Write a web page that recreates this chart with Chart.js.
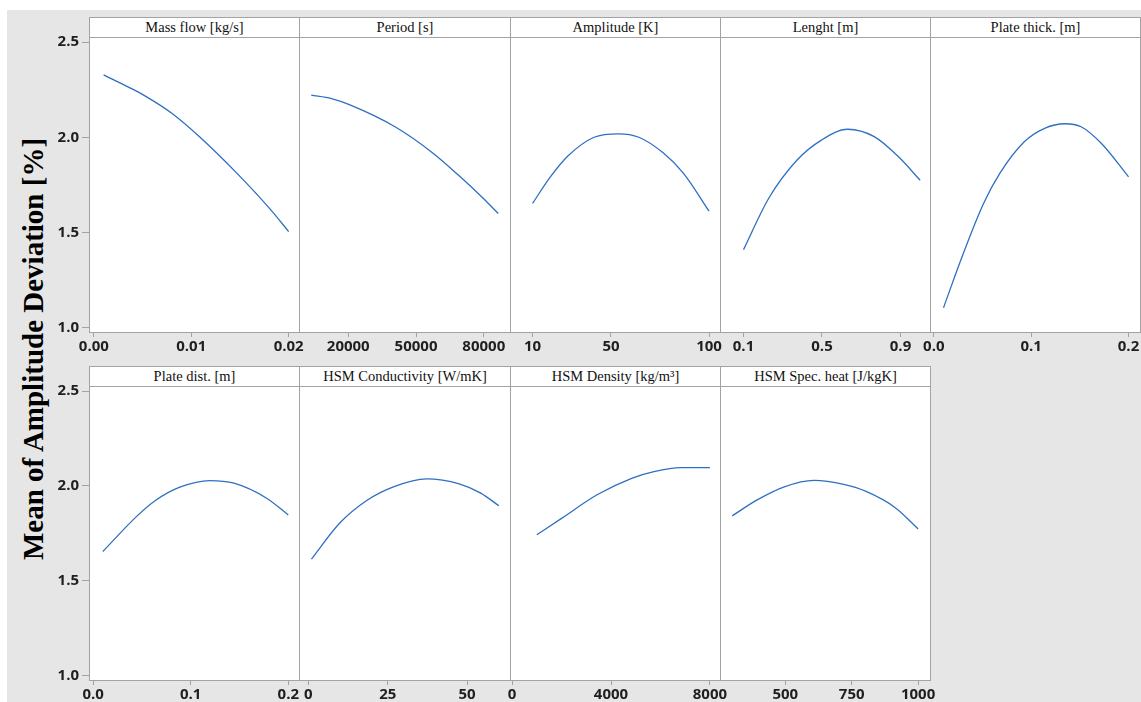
<!DOCTYPE html>
<html>
<head>
<meta charset="utf-8">
<script src="https://cdn.jsdelivr.net/npm/chart.js@4.4.1/dist/chart.umd.min.js"></script>
<style>
  html, body { margin: 0; padding: 0; width: 1141px; height: 702px; overflow: hidden; background: #ffffff; }
  #bg { position: absolute; left: 7px; top: 10px; width: 1134px; height: 692px; background: #e6e6e6; }
  .frame { position: absolute; box-sizing: border-box; background: #ffffff; border: 1px solid #a3a3a3; }
  .strip { box-sizing: border-box; width: 100%; border-bottom: 1px solid #a3a3a3; text-align: center;
           font-family: "Liberation Serif", "Times New Roman", serif; font-size: 14.5px; color: #111111; white-space: nowrap; }
  canvas { position: absolute; }
  #ytitle { position: absolute; left: -217px; top: 329px; width: 500px; height: 40px; line-height: 40px; text-align: center;
            font-family: "Liberation Serif", "Times New Roman", serif; font-weight: bold; font-size: 29px; color: #000000;
            transform: rotate(-90deg); white-space: nowrap; }
</style>
</head>
<body>
<div id="bg"></div>
<div id="ytitle">Mean of Amplitude Deviation [%]</div>
<script>
// Main effects: mean amplitude deviation [%] against each factor
const factorNames = ['Mass flow [kg/s]', 'Period [s]', 'Amplitude [K]', 'Lenght [m]', 'Plate thick. [m]',
                     'Plate dist. [m]', 'HSM Conductivity [W/mK]', 'HSM Density [kg/m³]', 'HSM Spec. heat [J/kgK]'];

const yTickValues = [1.0, 1.5, 2.0, 2.5];
const yTickLabels = ['1.0', '1.5', '2.0', '2.5'];

const massFlowX = [0.001, 0.0035, 0.0052, 0.008, 0.0109, 0.0147, 0.0181, 0.02];
const massFlowY = [2.328, 2.265, 2.219, 2.126, 2.0, 1.81, 1.622, 1.504];
const massFlowTicks = [0, 0.01, 0.02];
const massFlowLabels = ['0.00', '0.01', '0.02'];

const periodX = [3600, 12600, 20750, 40700, 57670, 68740, 79820, 86400];
const periodY = [2.221, 2.203, 2.170, 2.055, 1.915, 1.801, 1.678, 1.599];
const periodTicks = [20000, 50000, 80000];
const periodLabels = ['20000', '50000', '80000'];

const amplitudeX = [10, 19, 28, 41.4, 53.9, 64.2, 76.6, 87, 100];
const amplitudeY = [1.652, 1.790, 1.901, 2.0, 2.018, 2.0, 1.918, 1.81, 1.611];
const amplitudeTicks = [10, 50, 100];
const amplitudeLabels = ['10', '50', '100'];

const lengthX = [0.1, 0.228, 0.373, 0.497, 0.631, 0.766, 0.89, 1.0];
const lengthY = [1.409, 1.678, 1.880, 1.985, 2.042, 2.003, 1.897, 1.774];
const lengthTicks = [0.1, 0.5, 0.9];
const lengthLabels = ['0.1', '0.5', '0.9'];

const plateThickX = [0.01, 0.03, 0.0511, 0.0678, 0.0929, 0.1138, 0.1345, 0.1513, 0.172, 0.2];
const plateThickY = [1.104, 1.385, 1.652, 1.810, 1.976, 2.047, 2.071, 2.055, 1.968, 1.792];
const plateThickTicks = [0, 0.1, 0.2];
const plateThickLabels = ['0.0', '0.1', '0.2'];

const plateDistX = [0.01, 0.0444, 0.0639, 0.0889, 0.1195, 0.1444, 0.1778, 0.2];
const plateDistY = [1.654, 1.838, 1.923, 1.993, 2.028, 2.014, 1.935, 1.847];
const plateDistTicks = [0, 0.1, 0.2];
const plateDistLabels = ['0.0', '0.1', '0.2'];

const conductivityX = [1, 9.9, 18.4, 27, 37.2, 47.5, 54.3, 60];
const conductivityY = [1.614, 1.804, 1.923, 1.996, 2.037, 2.011, 1.962, 1.895];
const conductivityTicks = [0, 25, 50];
const conductivityLabels = ['0', '25', '50'];

const densityX = [1000, 2015, 3437, 4860, 5737, 6833, 8000];
const densityY = [1.742, 1.830, 1.953, 2.041, 2.075, 2.096, 2.096];
const densityTicks = [0, 4000, 8000];
const densityLabels = ['0', '4000', '8000'];

const specHeatX = [300, 394, 496, 608, 720, 802, 914, 1000];
const specHeatY = [1.842, 1.926, 1.995, 2.029, 2.008, 1.972, 1.885, 1.773];
const specHeatTicks = [500, 750, 1000];
const specHeatLabels = ['500', '750', '1000'];

// one panel per factor, x-axis limits per panel
const panels = [
  { xs: massFlowX,     ys: massFlowY,     ticks: massFlowTicks,     labels: massFlowLabels,     min: -0.0005, max: 0.02106 },
  { xs: periodX,       ys: periodY,       ticks: periodTicks,       labels: periodLabels,       min: -1800,   max: 91600 },
  { xs: amplitudeX,    ys: amplitudeY,    ticks: amplitudeTicks,    labels: amplitudeLabels,    min: -1.5,    max: 105.6 },
  { xs: lengthX,       ys: lengthY,       ticks: lengthTicks,       labels: lengthLabels,       min: -0.0197, max: 1.0503 },
  { xs: plateThickX,   ys: plateThickY,   ticks: plateThickTicks,   labels: plateThickLabels,   min: -0.0039, max: 0.2118 },
  { xs: plateDistX,    ys: plateDistY,    ticks: plateDistTicks,    labels: plateDistLabels,    min: -0.0042, max: 0.211 },
  { xs: conductivityX, ys: conductivityY, ticks: conductivityTicks, labels: conductivityLabels, min: -2.93,   max: 63.5 },
  { xs: densityX,      ys: densityY,      ticks: densityTicks,      labels: densityLabels,      min: -85,     max: 8408 },
  { xs: specHeatX,     ys: specHeatY,     ticks: specHeatTicks,     labels: specHeatLabels,     min: 254,     max: 1044.8 }
];

const edges = [89, 299, 510, 720, 930, 1140];
const rows = [
  { stripTop: 17,  plotTop: 37,  axisY: 332 },
  { stripTop: 366, plotTop: 386, axisY: 680 }
];
const gridGray = '#a3a3a3';
const tickFont = { family: '"Open Sans", "DejaVu Sans", sans-serif', size: 15, weight: 'bold' };

panels.forEach((p, i) => {
  const r = Math.floor(i / 5), c = i % 5;
  const row = rows[r];
  const left = edges[c], right = edges[c + 1];

  // white panel with its title strip
  const frame = document.createElement('div');
  frame.className = 'frame';
  frame.style.left = left + 'px';
  frame.style.top = row.stripTop + 'px';
  frame.style.width = (right - left + 1) + 'px';
  frame.style.height = (row.axisY - row.stripTop + 1) + 'px';
  const strip = document.createElement('div');
  strip.className = 'strip';
  strip.textContent = factorNames[i];
  strip.style.height = (row.plotTop - row.stripTop) + 'px';
  strip.style.lineHeight = (row.plotTop - row.stripTop - 1) + 'px';
  frame.appendChild(strip);
  document.body.appendChild(frame);

  // chart canvas: the plot area lines up with the panel below the strip
  const leftPad = c === 0 ? 50 : 24, rightPad = 24, topPad = 10, bottomPad = 26;
  const W = leftPad + (right - left) + rightPad;
  const H = topPad + (row.axisY - row.plotTop) + bottomPad;
  const cv = document.createElement('canvas');
  cv.width = W; cv.height = H;
  cv.style.left = (left - leftPad) + 'px';
  cv.style.top = (row.plotTop - topPad) + 'px';
  cv.style.width = W + 'px';
  cv.style.height = H + 'px';
  document.body.appendChild(cv);

  new Chart(cv, {
    type: 'line',
    data: {
      datasets: [{
        data: p.xs.map((x, k) => ({ x: x, y: p.ys[k] })),
        borderColor: '#2e6fc1',
        borderWidth: 1.3,
        pointRadius: 0,
        cubicInterpolationMode: 'monotone',
        fill: false
      }]
    },
    options: {
      responsive: false,
      animation: false,
      devicePixelRatio: 1,
      layout: { padding: { left: c === 0 ? 0 : leftPad, right: rightPad, top: topPad, bottom: 0 } },
      plugins: { legend: { display: false }, tooltip: { enabled: false }, title: { display: false } },
      scales: {
        x: {
          type: 'linear',
          position: 'bottom',
          min: p.min,
          max: p.max,
          afterBuildTicks: s => { s.ticks = p.ticks.map(v => ({ value: v })); },
          afterFit: s => { s.height = bottomPad; s.paddingLeft = 0; s.paddingRight = 0; },
          grid: { drawOnChartArea: false, drawTicks: true, tickLength: 5, color: gridGray, lineWidth: 1 },
          border: { display: false },
          ticks: { autoSkip: false, maxRotation: 0, minRotation: 0, padding: 1, color: '#1f1f1f', font: tickFont,
                   callback: (v, k) => p.labels[k] }
        },
        y: {
          type: 'linear',
          display: c === 0,
          min: 0.976,
          max: 2.527,
          afterBuildTicks: s => { s.ticks = yTickValues.map(v => ({ value: v })); },
          afterFit: s => { s.width = c === 0 ? leftPad : 0; s.paddingTop = 0; s.paddingBottom = 0; },
          grid: { drawOnChartArea: false, drawTicks: true, tickLength: 7, color: gridGray, lineWidth: 1 },
          border: { display: false },
          ticks: { padding: 3, color: '#1f1f1f', font: tickFont, callback: (v, k) => yTickLabels[k] }
        }
      }
    }
  });
});
</script>
</body>
</html>
